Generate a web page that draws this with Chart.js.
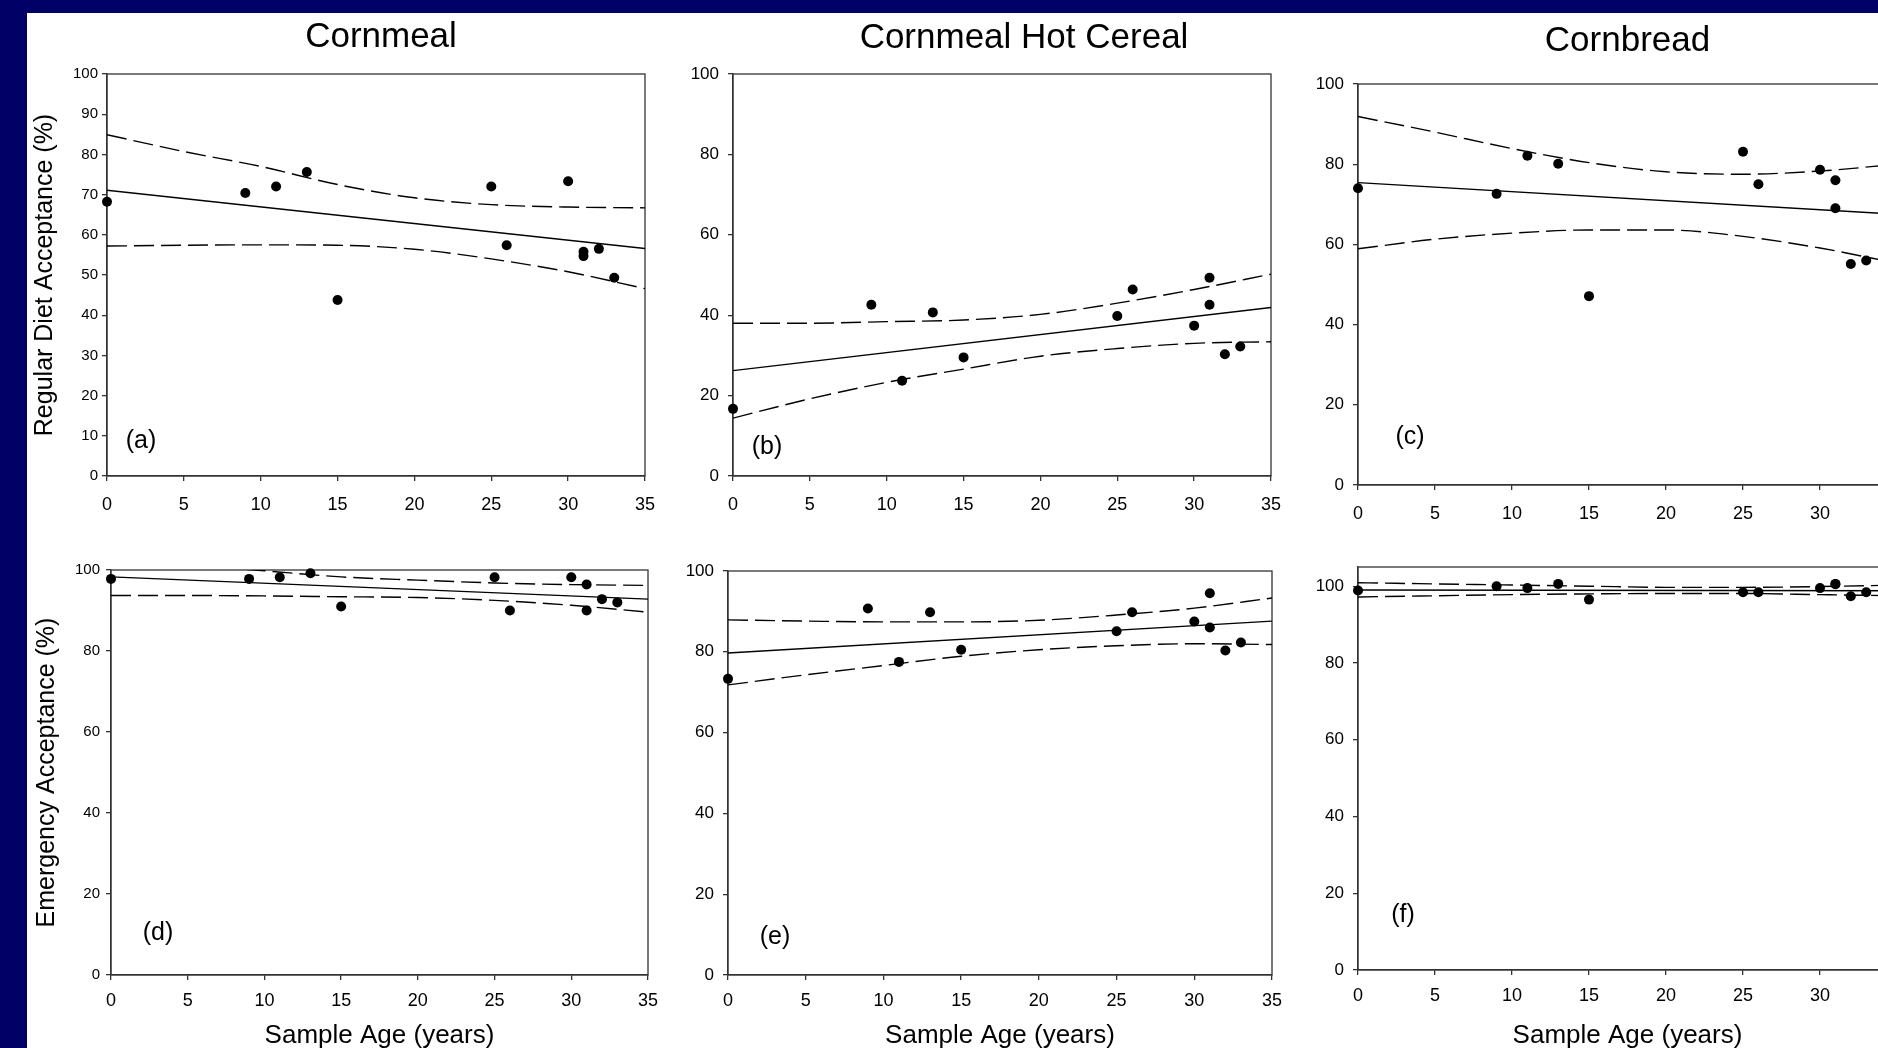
<!DOCTYPE html>
<html>
<head>
<meta charset="utf-8">
<title>Acceptance of stored corn products vs sample age</title>
<script src="https://cdn.jsdelivr.net/npm/chart.js@4.4.1/dist/chart.umd.min.js"></script>
<style>
  html, body { margin: 0; padding: 0; }
  body { width: 1878px; height: 1048px; background: #000066; overflow: hidden; position: relative; }
  #sheet { position: absolute; left: 27px; top: 13px; right: 0; bottom: 0; background: #fff; }
  canvas.panel { position: absolute; }
</style>
</head>
<body>
<div id="sheet"></div>
<canvas class="panel" id="chart-a"></canvas>
<canvas class="panel" id="chart-b"></canvas>
<canvas class="panel" id="chart-c"></canvas>
<canvas class="panel" id="chart-d"></canvas>
<canvas class="panel" id="chart-e"></canvas>
<canvas class="panel" id="chart-f"></canvas>
<script>
// Sample ages (years) of the 12 stored samples, shared by every panel
var sampleAge = [0, 9, 11, 13, 15, 25, 26, 30, 31, 31, 32, 33];
// x positions for the regression line and the confidence band readings
var fitAge = [0, 35];
var bandAge = [0, 5, 10, 15, 20, 25, 30, 35];

// tick labels
var xTickValues = [0, 5, 10, 15, 20, 25, 30, 35];
var yTicksBy10 = [0, 10, 20, 30, 40, 50, 60, 70, 80, 90, 100];
var yTicksBy20 = [0, 20, 40, 60, 80, 100];

// (a) Cornmeal - regular diet acceptance
var cornmealRegular = [68.2, 70.4, 72.0, 75.6, 43.8, 72.0, 57.4, 73.3, 55.8, 54.7, 56.5, 49.3];
var cornmealRegularFit = [71.1, 56.6];
var cornmealRegularUpper = [84.9, 80.7, 77.0, 72.5, 69.2, 67.5, 66.9, 66.7];
var cornmealRegularLower = [57.2, 57.4, 57.5, 57.4, 56.4, 54.0, 50.8, 46.6];

// (b) Cornmeal hot cereal - regular diet acceptance
var hotCerealRegular = [16.7, 42.6, 23.7, 40.7, 29.5, 39.8, 46.4, 37.4, 49.3, 42.6, 30.3, 32.2];
var hotCerealRegularFit = [26.2, 41.9];
var hotCerealRegularUpper = [38.0, 38.0, 38.4, 38.8, 40.2, 43.0, 46.4, 50.2];
var hotCerealRegularLower = [14.4, 19.2, 23.3, 26.6, 29.8, 31.7, 33.0, 33.4];

// (c) Cornbread - regular diet acceptance
var cornbreadRegular = [74.0, 72.6, 82.1, 80.1, 47.1, 83.1, 75.0, 78.6, 76.0, 69.0, 55.1, 56.0];
var cornbreadRegularFit = [75.4, 67.5];
var cornbreadRegularUpper = [91.9, 88.0, 83.9, 80.4, 78.1, 77.5, 78.3, 80.0];
var cornbreadRegularLower = [58.9, 61.3, 62.8, 63.6, 63.6, 62.0, 59.1, 55.3];

// (d) Cornmeal - emergency acceptance
var cornmealEmergency = [97.8, 97.8, 98.2, 99.2, 91.0, 98.2, 90.0, 98.2, 96.4, 90.0, 92.8, 92.0];
var cornmealEmergencyFit = [98.3, 92.8];
var cornmealEmergencyUpper = [102.9, 101.3, 99.8, 98.3, 97.5, 96.8, 96.4, 96.2];
var cornmealEmergencyLower = [93.7, 93.7, 93.6, 93.4, 93.2, 92.5, 91.3, 89.6];

// (e) Cornmeal hot cereal - emergency acceptance
var hotCerealEmergency = [73.3, 90.7, 77.5, 89.8, 80.5, 85.1, 89.8, 87.5, 94.5, 86.0, 80.3, 82.3];
var hotCerealEmergencyFit = [79.7, 87.6];
var hotCerealEmergencyUpper = [87.9, 87.6, 87.4, 87.4, 87.8, 89.1, 90.8, 93.3];
var hotCerealEmergencyLower = [71.8, 74.3, 76.6, 78.9, 80.5, 81.5, 82.0, 81.8];

// (f) Cornbread - emergency acceptance
var cornbreadEmergency = [98.9, 100.0, 99.5, 100.6, 96.5, 98.4, 98.4, 99.5, 100.6, 100.5, 97.4, 98.4];
var cornbreadEmergencyFit = [99.0, 98.8];
var cornbreadEmergencyUpper = [100.9, 100.6, 100.3, 100.0, 99.7, 99.7, 99.9, 100.3];
var cornbreadEmergencyLower = [97.2, 97.5, 97.8, 98.0, 98.1, 98.1, 97.8, 97.5];

var FONT = 'Arial, "Liberation Sans", Helvetica, sans-serif';
var AXIS = '#333';

// Panel layout (page pixels). Plot areas are set via layout padding and afterFit.
var panels = [
  { id: 'chart-a', left: 27, top: 13, width: 643, height: 517, yWidth: 80, xHeight: 54, padTop: 61, xPad: 13,
    values: cornmealRegular, fit: cornmealRegularFit, upper: cornmealRegularUpper, lower: cornmealRegularLower,
    yMax: 100, yTicks: yTicksBy10, yFont: 15, yPad: 4,
    yTitle: 'Regular Diet Acceptance (%)', yTitlePad: 3,
    title: 'Cornmeal', titleY: 24, titleShift: 5, letter: '(a)', letterX: 34, letterY: 35 },
  { id: 'chart-b', left: 663, top: 13, width: 633, height: 517, yWidth: 70, xHeight: 54, padTop: 61, xPad: 13,
    values: hotCerealRegular, fit: hotCerealRegularFit, upper: hotCerealRegularUpper, lower: hotCerealRegularLower,
    yMax: 100, yTicks: yTicksBy20, yFont: 17, yPad: 9,
    title: 'Cornmeal Hot Cereal', titleY: 25, titleShift: 22, letter: '(b)', letterX: 34, letterY: 29 },
  { id: 'chart-c', left: 1288, top: 13, width: 634, height: 517, yWidth: 70, xHeight: 45, padTop: 71, xPad: 13,
    values: cornbreadRegular, fit: cornbreadRegularFit, upper: cornbreadRegularUpper, lower: cornbreadRegularLower,
    yMax: 100, yTicks: yTicksBy20, yFont: 17, yPad: 9,
    title: 'Cornbread', titleY: 28, titleShift: 0, letter: '(c)', letterX: 52, letterY: 48 },
  { id: 'chart-d', left: 27, top: 530, width: 646, height: 521, yWidth: 84, xHeight: 76, padTop: 40, xPad: 10,
    values: cornmealEmergency, fit: cornmealEmergencyFit, upper: cornmealEmergencyUpper, lower: cornmealEmergencyLower,
    yMax: 100, yTicks: yTicksBy20, yFont: 15, yPad: 6,
    yTitle: 'Emergency Acceptance (%)', yTitlePad: 5, xTitle: 'Sample Age (years)',
    letter: '(d)', letterX: 47, letterY: 42 },
  { id: 'chart-e', left: 658, top: 530, width: 639, height: 521, yWidth: 70, xHeight: 76, padTop: 41, xPad: 10,
    values: hotCerealEmergency, fit: hotCerealEmergencyFit, upper: hotCerealEmergencyUpper, lower: hotCerealEmergencyLower,
    yMax: 100, yTicks: yTicksBy20, yFont: 17, yPad: 9, xTitle: 'Sample Age (years)',
    letter: '(e)', letterX: 47, letterY: 38 },
  { id: 'chart-f', left: 1288, top: 530, width: 634, height: 521, yWidth: 70, xHeight: 81, padTop: 37, xPad: 10,
    values: cornbreadEmergency, fit: cornbreadEmergencyFit, upper: cornbreadEmergencyUpper, lower: cornbreadEmergencyLower,
    yMax: 105, yTicks: yTicksBy20, yFont: 17, yPad: 9, xTitle: 'Sample Age (years)',
    letter: '(f)', letterX: 45, letterY: 55 }
];

// Draws the closed frame around the plot area
var frameBox = {
  id: 'frameBox',
  beforeDatasetsDraw: function(chart) {
    var a = chart.chartArea, ctx = chart.ctx;
    ctx.save();
    ctx.strokeStyle = AXIS;
    ctx.lineWidth = 1.3;
    ctx.strokeRect(a.left, a.top, a.right - a.left, a.bottom - a.top);
    ctx.restore();
  }
};

// Column title and panel letter
var panelText = {
  id: 'panelText',
  afterDraw: function(chart, args, opts) {
    var a = chart.chartArea, ctx = chart.ctx;
    ctx.save();
    ctx.fillStyle = '#000';
    ctx.textAlign = 'center';
    ctx.textBaseline = 'middle';
    if (opts.title) {
      ctx.font = '35px ' + FONT;
      ctx.fillText(opts.title, (a.left + a.right) / 2 + opts.titleShift, opts.titleY);
    }
    ctx.font = '25px ' + FONT;
    ctx.fillText(opts.letter, a.left + opts.letterX, a.bottom - opts.letterY);
    ctx.restore();
  }
};

function toPoints(xs, ys) {
  return xs.map(function(x, i) { return { x: x, y: ys[i] }; });
}

panels.forEach(function(p) {
  var canvas = document.getElementById(p.id);
  canvas.width = p.width;
  canvas.height = p.height;
  canvas.style.left = p.left + 'px';
  canvas.style.top = p.top + 'px';
  canvas.style.width = p.width + 'px';
  canvas.style.height = p.height + 'px';

  var lineStyle = { showLine: true, borderColor: '#000', borderWidth: 1.4, pointRadius: 0, fill: false };

  new Chart(canvas.getContext('2d'), {
    type: 'scatter',
    data: {
      datasets: [
        { label: 'Samples', data: toPoints(sampleAge, p.values), backgroundColor: '#000',
          borderWidth: 0, pointRadius: 5, clip: false },
        Object.assign({ label: 'Regression', data: toPoints(fitAge, p.fit) }, lineStyle),
        Object.assign({ label: 'Upper 95% CI', data: toPoints(bandAge, p.upper), borderDash: [20, 7],
          cubicInterpolationMode: 'monotone' }, lineStyle),
        Object.assign({ label: 'Lower 95% CI', data: toPoints(bandAge, p.lower), borderDash: [20, 7],
          cubicInterpolationMode: 'monotone' }, lineStyle)
      ]
    },
    options: {
      responsive: false,
      animation: false,
      events: [],
      layout: { padding: { top: p.padTop, right: 25, bottom: 0, left: 0 } },
      plugins: {
        legend: { display: false },
        tooltip: { enabled: false },
        panelText: { title: p.title, titleY: p.titleY, titleShift: p.titleShift,
                     letter: p.letter, letterX: p.letterX, letterY: p.letterY }
      },
      scales: {
        x: {
          type: 'linear', min: 0, max: 35,
          afterBuildTicks: function(s) { s.ticks = xTickValues.map(function(v) { return { value: v }; }); },
          afterFit: function(s) { s.height = p.xHeight; },
          ticks: { color: '#000', padding: p.xPad, maxRotation: 0, font: { family: FONT, size: 18 } },
          grid: { drawOnChartArea: false, drawTicks: true, tickLength: 5, color: AXIS, lineWidth: 1.3 },
          border: { display: true, color: AXIS, width: 1.3 },
          title: { display: !!p.xTitle, text: p.xTitle || '', color: '#000',
                   padding: { top: 0, bottom: 0 }, font: { family: FONT, size: 26 } }
        },
        y: {
          type: 'linear', min: 0, max: p.yMax,
          afterBuildTicks: function(s) { s.ticks = p.yTicks.map(function(v) { return { value: v }; }); },
          afterFit: function(s) { s.width = p.yWidth; },
          ticks: { color: '#000', padding: p.yPad, font: { family: FONT, size: p.yFont } },
          grid: { drawOnChartArea: false, drawTicks: true, tickLength: 5, color: AXIS, lineWidth: 1.3 },
          border: { display: true, color: AXIS, width: 1.3 },
          title: { display: !!p.yTitle, text: p.yTitle || '', color: '#000',
                   padding: { top: p.yTitlePad || 0, bottom: 0 }, font: { family: FONT, size: 25 } }
        }
      }
    },
    plugins: [frameBox, panelText]
  });
});
</script>
</body>
</html>
